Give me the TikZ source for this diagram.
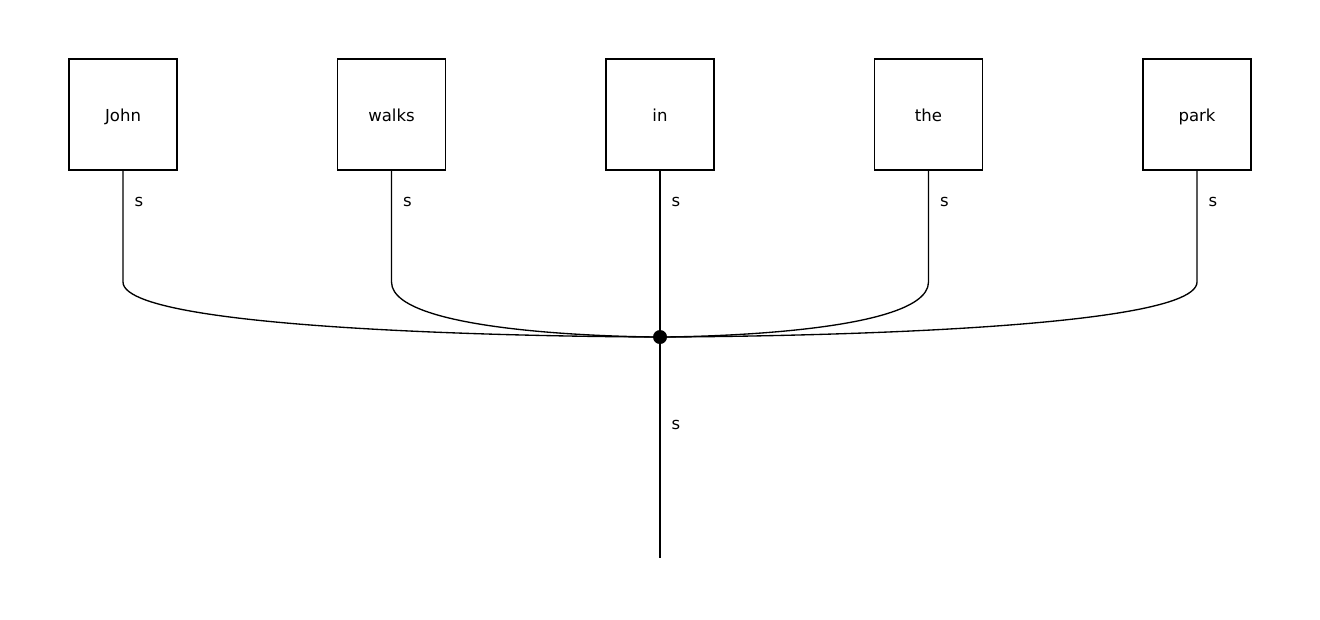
\documentclass[tikz,border=0pt]{standalone}
\usepackage{fontspec}
\setmainfont{DejaVu Sans}
\begin{document}
\begin{tikzpicture}[x=0.75pt,y=-0.75pt, line width=1pt,
	box/.style={draw, minimum width=81pt, minimum height=83.25pt, inner sep=0pt, text height=10.8pt, text depth=0pt, font=\fontsize{12.4}{15}\selectfont},
	lbl/.style={anchor=west, inner sep=0pt, font=\fontsize{12.4}{15}\selectfont}]
	\useasboundingbox (0,0) rectangle (1320,619);
	\coordinate (hub) at (660,337);
	\coordinate (out) at (660,558);
	\foreach \w [count=\i] in {John,walks,in,the,park} {
		\node[box] (w\i) at ({123+268.5*(\i-1)}, 114.5) {\w};
		\coordinate (k\i) at ({123+268.5*(\i-1)}, 282);
		\draw (w\i.south) -- (k\i) .. controls (k\i |- hub) and (hub) .. (hub);
		\node[lbl] (s\i) at ({134+268.5*(\i-1)}, 202) {s};
	}
	\draw (hub) -- (out);
	\node[circle, fill, inner sep=0pt, minimum size=10.5pt] (dot) at (hub) {};
	\node[lbl] (sout) at (671,425) {s};
\end{tikzpicture}
\end{document}
